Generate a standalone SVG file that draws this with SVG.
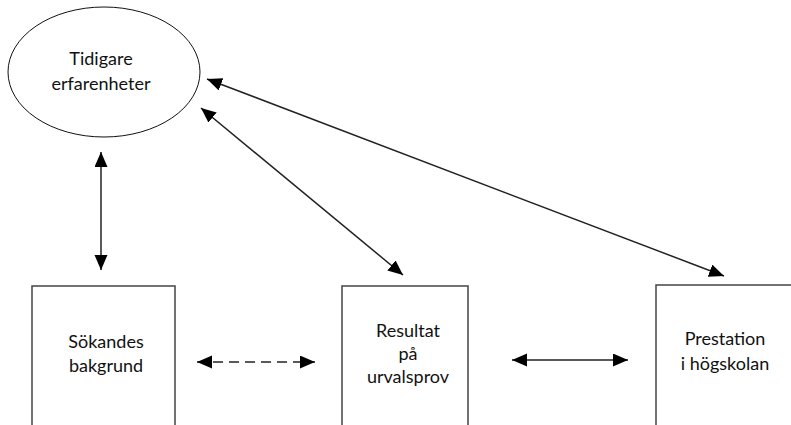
<svg xmlns="http://www.w3.org/2000/svg" width="791" height="425" viewBox="0 0 791 425">
<style>
  .lbl { font-family: Lato, "Open Sans", "Liberation Sans", sans-serif; font-size: 18px; fill: #111; text-anchor: middle; }
  .box { fill: none; stroke: #444; stroke-width: 1.5; }
  .conn { stroke: #222; stroke-width: 1.5; fill: none; }
</style>
<defs>
  <marker id="ah" markerUnits="userSpaceOnUse" markerWidth="16" markerHeight="14" refX="15" refY="6.5" orient="auto-start-reverse" viewBox="0 0 16 14">
    <path d="M0,0 L15,6.5 L0,13 z" fill="#000"/>
  </marker>
</defs>
<rect width="791" height="425" fill="#fff"/>
<g id="tidigare">
  <ellipse cx="104" cy="72" rx="96" ry="65" fill="none" stroke="#111" stroke-width="1"/>
  <text class="lbl" x="101" y="65">Tidigare</text>
  <text class="lbl" x="101" y="90">erfarenheter</text>
</g>
<g id="sokandes">
  <path class="box" d="M32,425 V286 H175 V425"/>
  <text class="lbl" x="106" y="348">Sökandes</text>
  <text class="lbl" x="106" y="372">bakgrund</text>
</g>
<g id="resultat">
  <path class="box" d="M342,425 V286 H468 V425"/>
  <text class="lbl" x="408" y="337">Resultat</text>
  <text class="lbl" x="408" y="360">på</text>
  <text class="lbl" x="408" y="383">urvalsprov</text>
</g>
<g id="prestation">
  <path class="box" d="M656,425 V285 H795"/>
  <text class="lbl" x="725" y="345">Prestation</text>
  <text class="lbl" x="725" y="370">i högskolan</text>
</g>
<g id="connectors">
  <line class="conn" x1="101" y1="152" x2="101" y2="270" marker-start="url(#ah)" marker-end="url(#ah)"/>
  <line class="conn" x1="201" y1="108" x2="403" y2="275" marker-start="url(#ah)" marker-end="url(#ah)"/>
  <line class="conn" x1="207" y1="79" x2="724" y2="276" marker-start="url(#ah)" marker-end="url(#ah)"/>
  <line class="conn" x1="197" y1="362" x2="315" y2="362" stroke-dasharray="10 6" marker-start="url(#ah)" marker-end="url(#ah)"/>
  <line class="conn" x1="512" y1="360" x2="628" y2="360" stroke-width="2" marker-start="url(#ah)" marker-end="url(#ah)"/>
</g>
</svg>
